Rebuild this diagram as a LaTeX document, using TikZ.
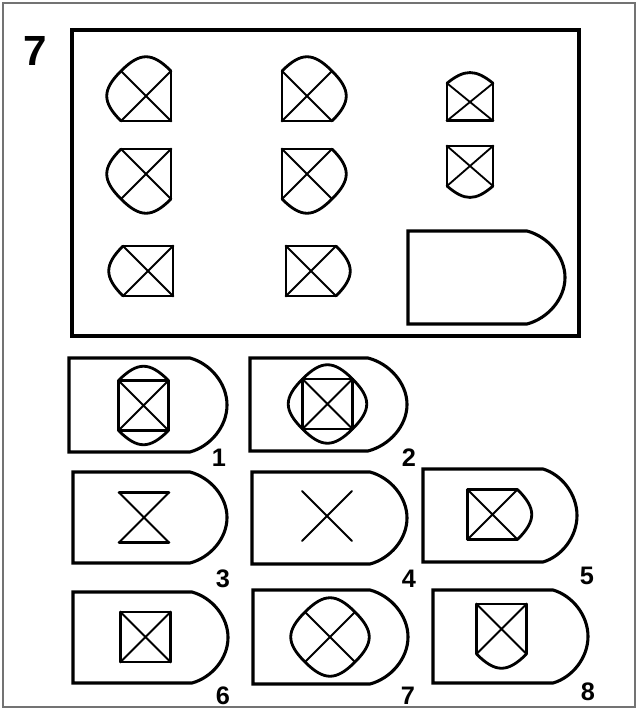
\documentclass[tikz,border=0pt]{standalone}
\usepackage{fontspec}
\setmainfont{Liberation Sans}
\usepackage{tikz}
\tikzset{
  linie/.style={black,line width=2pt,line cap=round,line join=round},
  diag/.style={black,line width=1.3pt,line cap=round},
  rahmen/.style={black,line width=2.2pt,line join=miter},
  feld/.style={black,line width=2.6pt},
  aussen/.style={black!55,line width=1pt},
  nummer/.style={font=\bfseries\fontsize{18}{18}\selectfont,inner sep=0pt},
  aufgabe/.style={font=\bfseries\fontsize{30}{30}\selectfont,inner sep=0pt},
}
% sides of a cell, half side 25, drawn in a shifted scope
\newcommand{\seiteO}{\draw[linie] (-25,-25) -- (25,-25);}
\newcommand{\seiteU}{\draw[linie] (-25,25) -- (25,25);}
\newcommand{\seiteL}{\draw[linie] (-25,-25) -- (-25,25);}
\newcommand{\seiteR}{\draw[linie] (25,-25) -- (25,25);}
\newcommand{\bogenO}{\draw[linie] (-25,-25) .. controls (-6,-44) and (6,-44) .. (25,-25);}
\newcommand{\bogenU}{\draw[linie] (-25,25) .. controls (-6,44) and (6,44) .. (25,25);}
\newcommand{\bogenL}{\draw[linie] (-25,-25) .. controls (-44,-6) and (-44,6) .. (-25,25);}
\newcommand{\bogenR}{\draw[linie] (25,-25) .. controls (44,-6) and (44,6) .. (25,25);}
\newcommand{\kreuz}{\draw[diag] (-25,-25) -- (25,25) (25,-25) -- (-25,25);}
% answer shield: left, top, arc start, bottom, right end
\newcommand{\schild}[5]{%
  \draw[rahmen] (#3,#2) -- (#1,#2) -- (#1,#4) -- (#3,#4)
    .. controls ({#3+0.55*(#5-#3)},{#4-0.06*(#4-#2)}) and (#5,{#4-0.27*(#4-#2)}) .. (#5,{(#2+#4)/2})
    .. controls (#5,{#2+0.27*(#4-#2)}) and ({#3+0.55*(#5-#3)},{#2+0.06*(#4-#2)}) .. cycle;}

\begin{document}
\begin{tikzpicture}[x=0.025cm,y=-0.025cm]
  \useasboundingbox (0,0) rectangle (639,711);
  \draw[aussen] (3,3) rectangle (635,707);
  \node[aufgabe] (nr) at (35,51) {7};
  \draw[feld] (72,30) rectangle (579,336);

  % matrix
  \begin{scope}[shift={(146,96)}]  \bogenL \bogenO \seiteR \seiteU \kreuz \end{scope}
  \begin{scope}[shift={(307,96)}]  \seiteL \bogenO \bogenR \seiteU \kreuz \end{scope}
  \begin{scope}[shift={(470,102)},xscale=0.92,yscale=0.75] \seiteL \bogenO \seiteR \seiteU \kreuz \end{scope}
  \begin{scope}[shift={(146,174)}] \bogenL \seiteO \seiteR \bogenU \kreuz \end{scope}
  \begin{scope}[shift={(307,174)}] \seiteL \seiteO \bogenR \bogenU \kreuz \end{scope}
  \begin{scope}[shift={(470,166)},xscale=0.92,yscale=0.8] \seiteL \seiteO \seiteR \bogenU \kreuz \end{scope}
  \begin{scope}[shift={(148,271)}] \bogenL \seiteO \seiteR \seiteU \kreuz \end{scope}
  \begin{scope}[shift={(311,271)}] \seiteL \seiteO \bogenR \seiteU \kreuz \end{scope}
  \schild{408}{231}{527}{324}{565}

  % answers
  \schild{69}{358}{190}{452}{227}
  \begin{scope}[shift={(143.5,405.5)}] \seiteL \seiteO \seiteR \seiteU \bogenO \bogenU \kreuz \end{scope}
  \node[nummer] (a1) at (219,458) {1};

  \schild{250}{358}{368}{451}{407}
  \begin{scope}[shift={(327.5,404)}] \seiteL \seiteO \seiteR \seiteU \bogenL \bogenO \bogenR \bogenU \kreuz \end{scope}
  \node[nummer] (a2) at (409,458) {2};

  \schild{73}{472}{190}{563}{227}
  \begin{scope}[shift={(144,517.5)}] \seiteO \seiteU \kreuz \end{scope}
  \node[nummer] (a3) at (223,579) {3};

  \schild{252}{472}{370}{564}{407}
  \begin{scope}[shift={(327,516)}] \kreuz \end{scope}
  \node[nummer] (a4) at (409,579) {4};

  \schild{423}{469}{543}{562}{577}
  \begin{scope}[shift={(492.5,514.5)}] \seiteL \seiteO \bogenR \seiteU \kreuz \end{scope}
  \node[nummer] (a5) at (587,576) {5};

  \schild{73}{592}{192}{683}{228}
  \begin{scope}[shift={(145.5,637)}] \seiteL \seiteO \seiteR \seiteU \kreuz \end{scope}
  \node[nummer] (a6) at (223,696) {6};

  \schild{253}{590}{370}{684}{408}
  \begin{scope}[shift={(330,637)}] \bogenL \bogenO \bogenR \bogenU \kreuz \end{scope}
  \node[nummer] (a7) at (408,696) {7};

  \schild{433}{590}{553}{683}{588}
  \begin{scope}[shift={(501.5,629)}] \seiteL \seiteO \seiteR \bogenU \kreuz \end{scope}
  \node[nummer] (a8) at (588,692) {8};
\end{tikzpicture}
\end{document}
